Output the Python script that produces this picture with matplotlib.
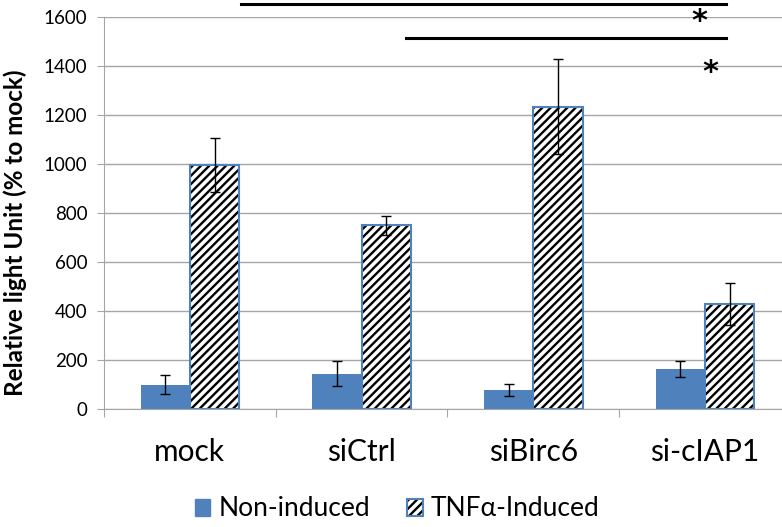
import numpy as np
import matplotlib
matplotlib.use("Agg")
from matplotlib import pyplot as plt
from matplotlib.patches import Patch

# datos
grupos = ['mock', 'siCtrl', 'siBirc6', 'si-cIAP1']
no_inducido = [100, 144, 78, 162]
no_inducido_err = [40, 52, 23, 33]
inducido = [997, 750, 1233, 428]
inducido_err = [110, 39, 194, 87]
nombres_series = ['Non-induced', 'TNF\u03b1-Induced']
yticks = [0, 200, 400, 600, 800, 1000, 1200, 1400, 1600]
# lineas de significancia: (x inicio, x fin, altura) y asteriscos (x, y)
lineas_sig = [(0.30, 3.12, 1655), (1.26, 3.12, 1513)]
asteriscos = [(2.965, 1580), (3.03, 1375)]

plt.rcParams['font.family'] = ['Lato', 'DejaVu Sans']
plt.rcParams['hatch.linewidth'] = 1.7

azul = '#4F81BD'
gris = '#A6A6A6'

fig = plt.figure(figsize=(7.82, 5.27), dpi=100)
ax = fig.add_axes([104/782, 1-409/527, 687/782, 392/527])

x = np.arange(len(grupos))
w = 0.287

ax.bar(x - w/2, no_inducido, w, color=azul, zorder=2)
ax.bar(x + w/2, inducido, w, color='white', edgecolor='black', hatch='////',
       linewidth=0, zorder=2)
ax.bar(x + w/2, inducido, w, fill=False, edgecolor=azul, linewidth=1.5, zorder=3)

ax.errorbar(x - w/2, no_inducido, yerr=no_inducido_err, fmt='none',
            ecolor='black', elinewidth=1, capsize=3.6, capthick=1, zorder=4)
ax.errorbar(x + w/2, inducido, yerr=inducido_err, fmt='none',
            ecolor='black', elinewidth=1, capsize=3.6, capthick=1, zorder=4)

for x0, x1, h in lineas_sig:
    ax.plot([x0, x1], [h, h], color='black', lw=2.2, clip_on=False, zorder=5)
for xa, ya in asteriscos:
    ax.text(xa, ya, '*', fontsize=22, fontweight='bold', ha='center',
            va='center', color='black', clip_on=False, family='DejaVu Sans')

ax.set_xlim(-0.5, 3.5)
ax.set_ylim(0, 1600)
ax.set_yticks(yticks)
ax.grid(axis='y', color=gris, linewidth=1, zorder=0)
ax.set_axisbelow(True)

ax.set_xticks(np.arange(-0.5, 4, 1))
ax.set_xticklabels([])
ax.set_xticks(x, minor=True)
ax.set_xticklabels(grupos, minor=True, fontsize=21.5)
ax.tick_params(axis='x', which='major', length=6, color=gris, direction='out')
ax.tick_params(axis='x', which='minor', length=0, pad=21)
ax.tick_params(axis='y', length=5, color=gris, labelsize=13.5, pad=7)

for s in ['top', 'right']:
    ax.spines[s].set_visible(False)
ax.spines['left'].set_color(gris)
ax.spines['bottom'].set_color(gris)

ax.set_ylabel('Relative light Unit (% to mock)', fontsize=17.5, fontweight='bold')
ax.yaxis.set_label_coords(-0.112, 0.45)

h1 = Patch(facecolor=azul, edgecolor=azul)
h2a = Patch(facecolor='white', edgecolor='black', hatch='////', linewidth=0)
h2b = Patch(fill=False, edgecolor=azul, linewidth=1.5)
fig.legend([h1, (h2a, h2b)], nombres_series, loc='center',
           bbox_to_anchor=(397/782, 1-509/527), ncol=2, frameon=False,
           fontsize=19, handlelength=0.6, handleheight=0.6,
           handletextpad=0.3, columnspacing=1.4)

fig.savefig('out.png', dpi=100)
